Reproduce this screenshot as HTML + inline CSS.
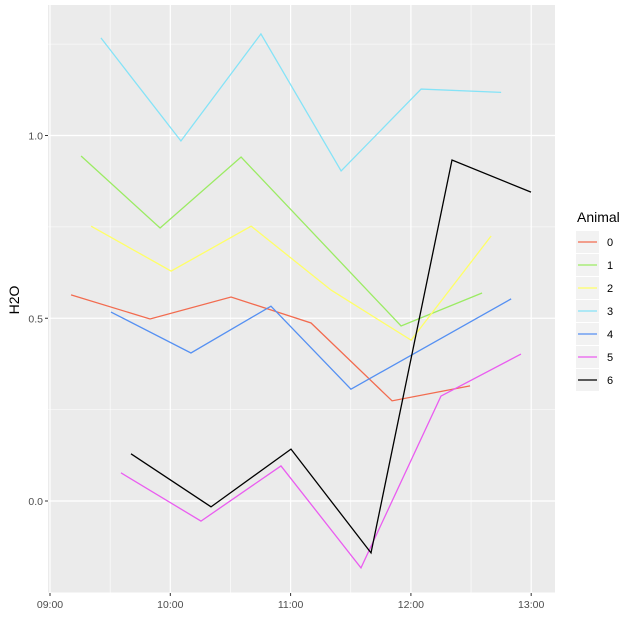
<!DOCTYPE html>
<html><head><meta charset="utf-8"><style>
body{margin:0;background:#fff;font-family:"Liberation Sans",sans-serif}
</style></head><body>
<svg id="c" width="636" height="636" xmlns="http://www.w3.org/2000/svg"></svg>
<script>
const seriesNames=["0","1","2","3","4","5","6"];
const colors=["#F26B4F","#9BEB63","#FFFF66","#85E3F7","#5590F2","#EA5CF0","#000000"];
const t0=[10.5,49.9,90.3,130.2,170.6,209.5];
const v0=[0.564,0.498,0.558,0.487,0.274,0.315];
const t1=[15.5,54.9,95.3,175.1,215.5];
const v1=[0.944,0.747,0.941,0.479,0.569];
const t2=[20.5,60.4,100.3,140.2,180.1,220];
const v2=[0.752,0.629,0.752,0.577,0.440,0.725];
const t3=[25.4,65.3,105.2,145.2,185.1,225];
const v3=[1.267,0.985,1.278,0.903,1.127,1.118];
const t4=[30.4,70.3,110.2,150.1,230];
const v4=[0.517,0.405,0.533,0.306,0.553];
const t5=[35.4,75.3,115.2,155.1,195,234.9];
const v5=[0.077,-0.055,0.096,-0.183,0.287,0.402];
const t6=[40.4,80.3,120.2,160.1,200.5,239.9];
const v6=[0.129,-0.016,0.142,-0.142,0.933,0.845];
const xTickLabels=["09:00","10:00","11:00","12:00","13:00"];
const xTickMins=[0,60,120,180,240];
const yTickVals=[0,0.5,1];
const yTickLabels=["0.0","0.5","1.0"];
const T=[t0,t1,t2,t3,t4,t5,t6], V=[v0,v1,v2,v3,v4,v5,v6];
const px0=48,px1=555,py0=5,py1=593;
const X=m=>50+m*120.3/60;
const Y=v=>501-v*365.5;
const svg=document.getElementById('c');
const NS="http://www.w3.org/2000/svg";
function mk(tag,at,parent){const e=document.createElementNS(NS,tag);for(const k in at)e.setAttribute(k,at[k]);(parent||svg).appendChild(e);return e;}
let bg=mk('rect',{x:px0,y:py0,width:px1-px0,height:py1-py0,fill:'#EBEBEB'});


for(let m=-30;m<=270;m+=60){const x=X(m);if(x>px0&&x<px1){const l=mk('line',{x1:x,x2:x,y1:py0,y2:py1,stroke:'#fff','stroke-width':0.6});}}
for(let v=-0.25;v<=1.5;v+=0.5){const y=Y(v);if(y>py0&&y<py1){const l=mk('line',{x1:px0,x2:px1,y1:y,y2:y,stroke:'#fff','stroke-width':0.6});}}
xTickMins.forEach((m,i)=>{const x=X(m);
const g=mk('line',{x1:x,x2:x,y1:py0,y2:py1,stroke:'#fff','stroke-width':1.2});
const tk=mk('line',{x1:x,x2:x,y1:py1,y2:py1+3,stroke:'#333','stroke-width':1});
const t=mk('text',{x:x,y:py1+15,'text-anchor':'middle','font-size':10.5,fill:'#4d4d4d'});t.textContent=xTickLabels[i];});
yTickVals.forEach((v,i)=>{const y=Y(v);
const g=mk('line',{x1:px0,x2:px1,y1:y,y2:y,stroke:'#fff','stroke-width':1.2});
const tk=mk('line',{x1:px0-3,x2:px0,y1:y,y2:y,stroke:'#333','stroke-width':1});
const t=mk('text',{x:px0-5,y:y+4,'text-anchor':'end','font-size':10.5,fill:'#4d4d4d'});t.textContent=yTickLabels[i];});
const yt=mk('text',{x:0,y:0,transform:'translate(19,300) rotate(-90)','text-anchor':'middle','font-size':14,fill:'#000'});yt.textContent='H2O';


T.forEach((ts,s)=>{const pts=ts.map((m,i)=>X(m)+','+Y(V[s][i])).join(' ');
const p=mk('polyline',{points:pts,fill:'none',stroke:colors[s],'stroke-width':1.3});

});
const lt=mk('text',{x:577,y:222,'font-size':14,fill:'#000'});lt.textContent='Animal';


seriesNames.forEach((n,i)=>{const cy=242+i*23;
const g=mk('g',{});
mk('rect',{x:576,y:cy-11,width:23,height:22,fill:'#F2F2F2'},g);
mk('line',{x1:578,x2:597,y1:cy,y2:cy,stroke:colors[i],'stroke-width':1.3},g);
const t=mk('text',{x:607,y:cy+4,'font-size':11,fill:'#000'},g);t.textContent=n;});
</script>
</body></html>
